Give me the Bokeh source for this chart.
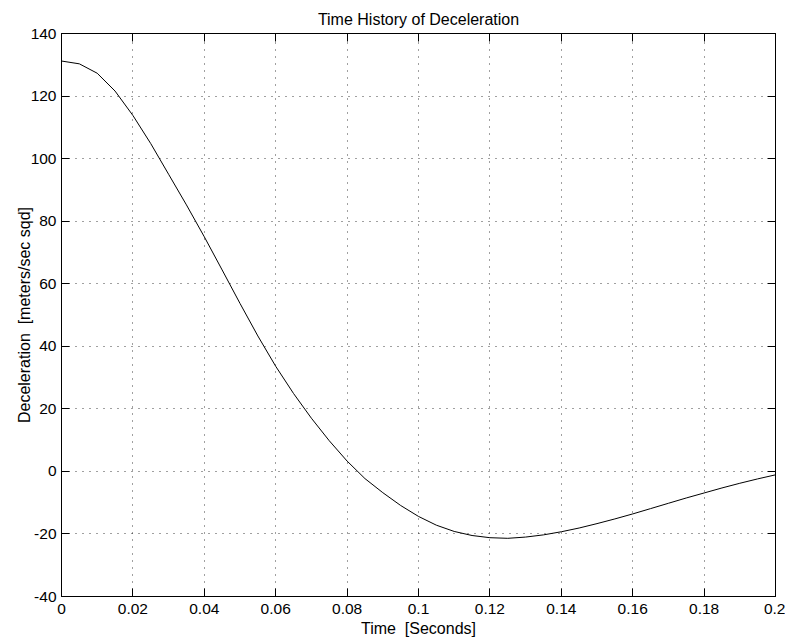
from bokeh.plotting import figure
from bokeh.models import Range1d, LinearAxis, FixedTicker, CustomJSTickFormatter
from bokeh.embed import file_html
from bokeh.resources import INLINE

# ---- data ----
time_s = [0.000, 0.005, 0.010, 0.015, 0.020, 0.025, 0.030, 0.035, 0.040, 0.045,
          0.050, 0.055, 0.060, 0.065, 0.070, 0.075, 0.080, 0.085, 0.090, 0.095,
          0.100, 0.105, 0.110, 0.115, 0.120, 0.125, 0.130, 0.135, 0.140, 0.145,
          0.150, 0.155, 0.160, 0.165, 0.170, 0.175, 0.180, 0.185, 0.190, 0.195, 0.200]
decel = [131.2, 130.3, 127.3, 121.6, 113.8, 104.8, 95.0, 85.2, 75.0, 64.4,
         53.7, 43.3, 33.6, 24.9, 17.0, 9.8, 3.3, -2.3, -6.8, -10.9,
         -14.4, -17.2, -19.2, -20.5, -21.2, -21.4, -21.0, -20.3, -19.3, -18.1,
         -16.7, -15.2, -13.6, -11.9, -10.2, -8.5, -6.9, -5.3, -3.8, -2.4, -1.1]

x_ticks = [0.0, 0.02, 0.04, 0.06, 0.08, 0.1, 0.12, 0.14, 0.16, 0.18, 0.2]
x_tick_labels = ["0", "0.02", "0.04", "0.06", "0.08", "0.1", "0.12", "0.14", "0.16", "0.18", "0.2"]
y_ticks = [-40, -20, 0, 20, 40, 60, 80, 100, 120, 140]
y_tick_labels = ["-40", "-20", "0", "20", "40", "60", "80", "100", "120", "140"]

title_text = "Time History of Deceleration"
x_label = "Time\u00a0 [Seconds]"
y_label = "Deceleration\u00a0 [meters/sec sqd]"

FONT = "Liberation Sans"
TICK_FS = "15.5px"
LABEL_FS = "16px"

p = figure(frame_width=714, frame_height=563,
           min_border_left=61, min_border_right=10, min_border_top=33, min_border_bottom=44,
           x_range=Range1d(0, 0.2), y_range=Range1d(-40, 140),
           output_backend="svg", toolbar_location=None,
           background_fill_color="white", border_fill_color="white")

p.title.text = title_text
p.title.text_font = FONT
p.title.text_font_size = LABEL_FS
p.title.text_font_style = "normal"
p.title.align = "center"
p.title.text_color = "black"
p.title.standoff = 12

p.line(time_s, decel, line_color="black", line_width=1)

p.outline_line_color = "black"
p.outline_line_width = 1

xt = FixedTicker(ticks=x_ticks)
yt = FixedTicker(ticks=y_ticks)

for ax, tk, labs, lab in ((p.xaxis[0], xt, x_tick_labels, x_label), (p.yaxis[0], yt, y_tick_labels, y_label)):
    ax.ticker = tk
    ax.major_label_overrides = {t: s for t, s in zip(tk.ticks, labs)}
    ax.major_tick_in = 8
    ax.major_tick_out = 0
    ax.minor_tick_in = 0
    ax.minor_tick_out = 0
    ax.major_tick_line_color = "black"
    ax.axis_line_color = "black"
    ax.major_label_text_font = FONT
    ax.major_label_text_font_size = TICK_FS
    ax.major_label_text_color = "black"
    ax.axis_label = lab
    ax.axis_label_text_font = FONT
    ax.axis_label_text_font_size = LABEL_FS
    ax.axis_label_text_font_style = "normal"
    ax.axis_label_text_color = "black"

p.xaxis[0].major_label_standoff = 7
p.xaxis[0].axis_label_standoff = 3
p.yaxis[0].major_label_standoff = 5
p.yaxis[0].axis_label_standoff = -5

blank = CustomJSTickFormatter(code="return ''")
for loc, tk in (("right", yt), ("above", xt)):
    a = LinearAxis(ticker=tk, formatter=blank)
    a.major_tick_in = 8
    a.major_tick_out = 0
    a.minor_tick_in = 0
    a.minor_tick_out = 0
    a.major_label_standoff = 0
    a.major_label_text_font_size = "1px"
    a.axis_line_color = "black"
    a.major_tick_line_color = "black"
    p.add_layout(a, loc)

for g, tk in ((p.xgrid[0], xt), (p.ygrid[0], yt)):
    g.ticker = tk
    g.grid_line_color = "black"
    g.grid_line_dash = "1 6"
    g.grid_line_width = 1
    g.grid_line_alpha = 0.75

open("out.html", "w").write(file_html(p, INLINE))
